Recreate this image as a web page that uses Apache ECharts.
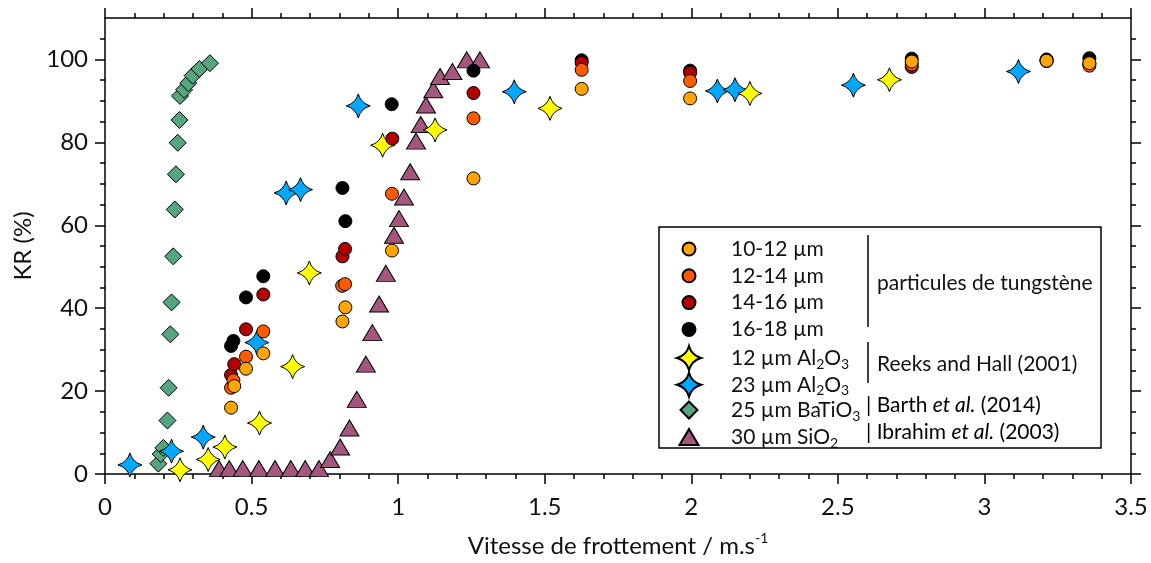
<!DOCTYPE html>
<html>
<head>
<meta charset="utf-8">
<script src="https://cdn.jsdelivr.net/npm/echarts@6/dist/echarts.min.js"></script>
<style>html,body{margin:0;padding:0;background:#fff}#c{width:1151px;height:563px}</style>
</head>
<body>
<div id="c"></div>
<script>
// ---- data (x: Vitesse de frottement m/s, y: KR %) ----
const w10_12 = [[0.430,16.0],[0.441,21.2],[0.481,25.4],[0.540,29.1],[0.810,36.8],[0.820,40.2],[0.979,53.9],[1.257,71.3],[1.626,92.9],[1.996,90.6],[2.752,99.5],[3.212,99.7],[3.358,99.1]];
const w12_14 = [[0.430,20.8],[0.438,22.6],[0.481,28.3],[0.540,34.4],[0.809,45.4],[0.819,45.8],[0.979,67.6],[1.257,85.8],[1.626,97.5],[1.996,94.8],[2.752,98.8],[3.212,99.6],[3.358,98.5]];
const w14_16 = [[0.430,23.9],[0.441,26.5],[0.481,34.9],[0.540,43.3],[0.810,52.5],[0.819,54.3],[0.980,80.9],[1.257,91.9],[1.626,99.2],[1.996,96.8],[2.752,98.2],[3.212,99.8],[3.358,99.0]];
const w16_18 = [[0.430,30.9],[0.438,32.1],[0.481,42.6],[0.540,47.7],[0.810,69.0],[0.820,61.0],[0.978,89.2],[1.257,97.3],[1.626,99.8],[1.996,97.3],[2.752,100.2],[3.212,100.0],[3.358,100.3]];
const al12 = [[0.256,1.0],[0.352,3.5],[0.409,6.5],[0.527,12.3],[0.640,25.9],[0.697,48.5],[0.947,79.3],[1.126,83.0],[1.518,88.2],[2.200,91.8],[2.676,95.1]];
const al23 = [[0.085,2.2],[0.227,5.5],[0.335,8.9],[0.518,31.7],[0.618,67.8],[0.667,68.6],[0.864,88.8],[1.396,92.2],[2.089,92.4],[2.149,92.7],[2.553,93.8],[3.116,97.1]];
const batio3 = [[0.182,2.5],[0.190,4.8],[0.199,6.3],[0.213,12.9],[0.217,20.8],[0.223,33.7],[0.227,41.4],[0.233,52.5],[0.238,63.8],[0.242,72.3],[0.248,79.9],[0.254,85.4],[0.256,91.2],[0.270,92.7],[0.284,94.3],[0.299,96.1],[0.322,97.7],[0.358,99.1]];
const sio2 = [[0.389,1.3],[0.424,1.3],[0.470,1.3],[0.525,1.3],[0.580,1.3],[0.634,1.3],[0.683,1.3],[0.730,1.3],[0.768,3.5],[0.802,6.5],[0.834,11.1],[0.859,18.0],[0.890,26.5],[0.912,34.1],[0.935,41.0],[0.958,48.4],[0.986,57.6],[1.003,61.6],[1.020,66.8],[1.041,72.9],[1.061,80.3],[1.077,84.3],[1.095,89.0],[1.120,92.7],[1.143,95.9],[1.185,97.1],[1.234,99.9],[1.279,99.9]];
const yTicks = [0,20,40,60,80,100];
const names = ['10-12 µm','12-14 µm','14-16 µm','16-18 µm','12 µm Al2O3','23 µm Al2O3','25 µm BaTiO3','30 µm SiO2'];

const FONT = 'Lato, "Open Sans", sans-serif';
const STAR = 'path://M0,-10 Q2.2,-2.2 10,0 Q2.2,2.2 0,10 Q-2.2,2.2 -10,0 Q-2.2,-2.2 0,-10 Z';

function legendFmt(n){
  return n.replace(/(\D)(\d)(?=O|$)/g,'$1{s|$2}')
    .split(/(\{s\|\d\})/).map(p=>p.startsWith('{s|')?p:(p?'{n|'+p+'}':'')).join('');
}
const richL = {
  n:{fontSize:21,fontFamily:FONT,color:'#111',lineHeight:26},
  s:{fontSize:14,fontFamily:FONT,color:'#111',lineHeight:12,verticalAlign:'bottom'},
  i:{fontSize:21,fontFamily:FONT,color:'#111',lineHeight:26,fontStyle:'italic'}
};
function mkLegend(data, w, h, top){
  return {
    data:data, orient:'vertical', left:683 - w/2, top:top, itemWidth:w, itemHeight:h,
    itemGap:0.8, selectedMode:false, z:5,
    formatter:legendFmt,
    textStyle:{fontFamily:FONT,fontSize:21,color:'#111',lineHeight:26,padding:[0,0,0,37 - w/2],rich:richL}
  };
}
const bw = {borderColor:'#000',borderWidth:1};
function sc(name,data,symbol,size,color,z){
  return {name:name,type:'scatter',data:data,symbol:symbol,symbolSize:size,clip:false,z:z,
    itemStyle:Object.assign({color:color,opacity:1},bw),emphasis:{disabled:true}};
}
const tickStyle = {color:'#000',width:1.5};
function axisParts(minorSplit, custom){
  const t = {show:true,inside:false,length:10,lineStyle:tickStyle};
  if (custom) t.customValues = custom;
  return {
    axisLine:{show:true,onZero:false,lineStyle:{color:'#000',width:1.5}},
    axisTick:t,
    minorTick:{show:true,splitNumber:minorSplit,length:5,lineStyle:tickStyle},
    splitLine:{show:false}, minorSplitLine:{show:false}
  };
}
const option = {
  backgroundColor:'#fff',
  animation:false,
  grid:{left:105,right:20,top:18,bottom:87,containLabel:false},
  xAxis:[
    Object.assign({type:'value',position:'bottom',min:0,max:3.5,interval:0.5,
      name:'{n|Vitesse de frottement / m.s}{p|-1}',nameLocation:'middle',nameGap:57,
      nameTextStyle:{rich:{n:{fontSize:24,fontFamily:FONT,color:'#111',lineHeight:30},p:{fontSize:14,fontFamily:FONT,color:'#111',lineHeight:14,verticalAlign:'top'}}},
      axisLabel:{fontSize:24,fontFamily:FONT,color:'#111',margin:21}}, axisParts(5)),
    Object.assign({type:'value',position:'top',min:0,max:3.5,interval:0.5,axisLabel:{show:false}}, axisParts(5))
  ],
  yAxis:[
    Object.assign({type:'value',position:'left',min:0,max:110,interval:20,
      name:'KR (%)',nameLocation:'middle',nameGap:66,
      nameTextStyle:{fontSize:24,fontFamily:FONT,color:'#111'},
      axisLabel:{fontSize:24,fontFamily:FONT,color:'#111',margin:17,customValues:yTicks}}, axisParts(4,yTicks)),
    Object.assign({type:'value',position:'right',min:0,max:110,interval:20,axisLabel:{show:false}}, axisParts(4,yTicks))
  ],
  legend:[
    mkLegend(names.slice(0,4),13,13,231),
    mkLegend(names.slice(4,6),24,24,340),
    mkLegend(names.slice(6,7),17,17,392),
    mkLegend(names.slice(7,8),19,16,419)
  ],
  graphic:[
    {type:'rect',shape:{x:659,y:227,width:442,height:221},style:{fill:'#fff',stroke:'#000',lineWidth:1.5},z:1},
    {type:'line',shape:{x1:868,y1:235,x2:868,y2:327},style:{stroke:'#000',lineWidth:1.5},z:6},
    {type:'line',shape:{x1:868,y1:342,x2:868,y2:383},style:{stroke:'#000',lineWidth:1.5},z:6},
    {type:'text',x:877,y:283,z:6,style:{text:'particules de tungstène',font:'21px '+FONT,fill:'#111',verticalAlign:'middle'}},
    {type:'text',x:877,y:364,z:6,style:{text:'Reeks and Hall (2001)',font:'21px '+FONT,fill:'#111',verticalAlign:'middle'}},
    {type:'text',x:866,y:405,z:6,style:{text:'{n|| Barth }{i|et al.}{n| (2014)}',rich:richL,verticalAlign:'middle'}},
    {type:'text',x:866,y:432,z:6,style:{text:'{n|| Ibrahim }{i|et al.}{n| (2003)}',rich:richL,verticalAlign:'middle'}}
  ],
  series:[
    sc(names[7],sio2,'triangle',[19,16],'#A5567F',2),
    sc(names[6],batio3,'diamond',17,'#55A57E',3),
    sc(names[5],al23,STAR,24,'#00A8FF',4),
    sc(names[4],al12,STAR,24,'#FFFF00',5),
    sc(names[3],w16_18,'circle',13,'#000000',6),
    sc(names[2],w14_16,'circle',13,'#B30000',7),
    sc(names[1],w12_14,'circle',13,'#FF5A00',8),
    sc(names[0],w10_12,'circle',13,'#FFA500',9)
  ]
};
const chart = echarts.init(document.getElementById('c'),null,{renderer:'canvas'});
chart.setOption(option);
</script>
</body>
</html>
